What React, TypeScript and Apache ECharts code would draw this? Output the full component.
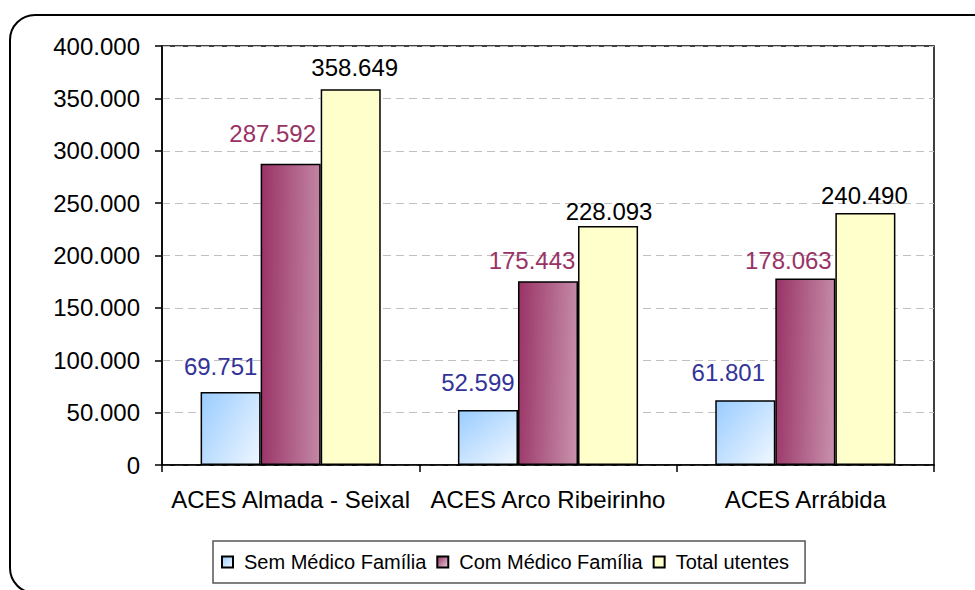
import React, { useEffect, useRef } from "react";
import * as echarts from "echarts";

const CATEGORIES = ["ACES Almada - Seixal", "ACES Arco Ribeirinho", "ACES Arrábida"];
const SERIES_NAMES = ["Sem Médico Família", "Com Médico Família", "Total utentes"];
const SEM_MEDICO = [69751, 52599, 61801];
const COM_MEDICO = [287592, 175443, 178063];
const TOTAL_UTENTES = [358649, 228093, 240490];
const Y_MIN = 0;
const Y_MAX = 400000;
const Y_STEP = 50000;

const W = 975;
const H = 590;
const GRID = { left: 162, right: 41, top: 46, bottom: 125 };
const PLOT_H = H - GRID.top - GRID.bottom;
const BAR_W = 60;
const FONT = '"Liberation Sans", Arial, sans-serif';

// label shifts (styling only) per series per category
const LABEL_SHIFT = [
  [[-10, -13], [-10, -15], [-17, -16]],
  [[-18, -18], [-16, -9], [-17, -6]],
  [[4, -10], [1, -3], [-1, -6]],
];
const LABEL_COLORS = ["#333399", "#993366", "#000000"];

const fmt = (v: number) => String(v).replace(/\B(?=(\d{3})+(?!\d))/g, ".");

function diagGradient(v: number, c0: string, c1: string) {
  const h = Math.max(1, (v / Y_MAX) * PLOT_H);
  const w = BAR_W;
  const x2 = (2 * h * h) / (h * h + w * w);
  const y2 = (2 * w * w) / (h * h + w * w);
  return new echarts.graphic.LinearGradient(0, 0, x2, y2, [
    { offset: 0, color: c0 },
    { offset: 1, color: c1 },
  ]);
}

const GRAD = [
  ["#99ccff", "#f2f8ff"],
  ["#993366", "#e8d0dc"],
];

export default function App() {
  const ref = useRef<HTMLDivElement>(null);
  useEffect(() => {
    if (!ref.current) return;
    const chart = echarts.init(ref.current, undefined, { renderer: "svg" });
    const values = [SEM_MEDICO, COM_MEDICO, TOTAL_UTENTES];
    const series = values.map((arr, si) => ({
      name: SERIES_NAMES[si],
      type: "bar",
      barGap: "0%",
      barCategoryGap: "30%",
      itemStyle: {
        color:
          si < 2
            ? new echarts.graphic.LinearGradient(0, 0, 1, 1, [
                { offset: 0, color: GRAD[si][0] },
                { offset: 1, color: GRAD[si][1] },
              ])
            : "#ffffcc",
        borderColor: "#000",
        borderWidth: 1.5,
      },
      label: {
        show: true,
        position: "top",
        distance: 0,
        color: LABEL_COLORS[si],
        fontSize: 24,
        fontFamily: FONT,
        formatter: (p: any) => fmt(p.value),
      },
      data: arr.map((v, ci) => ({
        value: v,
        itemStyle: si < 2 ? { color: diagGradient(v, GRAD[si][0], GRAD[si][1]) } : undefined,
        label: { offset: LABEL_SHIFT[si][ci] },
      })),
    }));

    chart.setOption({
      animation: false,
      backgroundColor: "#ffffff",
      textStyle: { fontFamily: FONT },
      grid: {
        ...GRID,
        show: true,
        borderColor: "#000",
        borderWidth: 1.5,
        backgroundColor: "transparent",
      },
      legend: {
        left: 213,
        top: 541,
        padding: [11, 16, 11, 8],
        borderColor: "#555",
        borderWidth: 1.5,
        itemWidth: 11,
        itemHeight: 11,
        itemGap: 10,
        icon: "rect",
        textStyle: { fontSize: 20, color: "#000", fontFamily: FONT, padding: [0, 0, 0, 6] },
        data: SERIES_NAMES,
      },
      xAxis: {
        type: "category",
        data: CATEGORIES,
        axisLine: { lineStyle: { color: "#000", width: 1.5 } },
        axisTick: { show: true, length: 7, lineStyle: { color: "#000", width: 1.5 } },
        axisLabel: { fontSize: 24, color: "#000", margin: 22, fontFamily: FONT, interval: 0 },
      },
      yAxis: {
        type: "value",
        min: Y_MIN,
        max: Y_MAX,
        interval: Y_STEP,
        axisLine: { show: true, lineStyle: { color: "#000", width: 1.5 } },
        axisTick: { show: true, length: 7, lineStyle: { color: "#000", width: 1.5 } },
        axisLabel: {
          fontSize: 24,
          color: "#000",
          margin: 22,
          fontFamily: FONT,
          formatter: (v: number) => fmt(v),
        },
        splitLine: { show: true, lineStyle: { color: "#c0c0c0", type: [8, 5], width: 1 } },
      },
      graphic: [
        {
          type: "rect",
          silent: true,
          z: -1,
          shape: { x: 10, y: 15, width: 988, height: 578, r: 25 },
          style: { fill: "none", stroke: "#000", lineWidth: 2 },
        },
      ],
      series,
    });
    return () => chart.dispose();
  }, []);
  return (
    <div
      ref={ref}
      style={{ position: "fixed", left: 0, top: 0, width: W, height: H }}
    />
  );
}
